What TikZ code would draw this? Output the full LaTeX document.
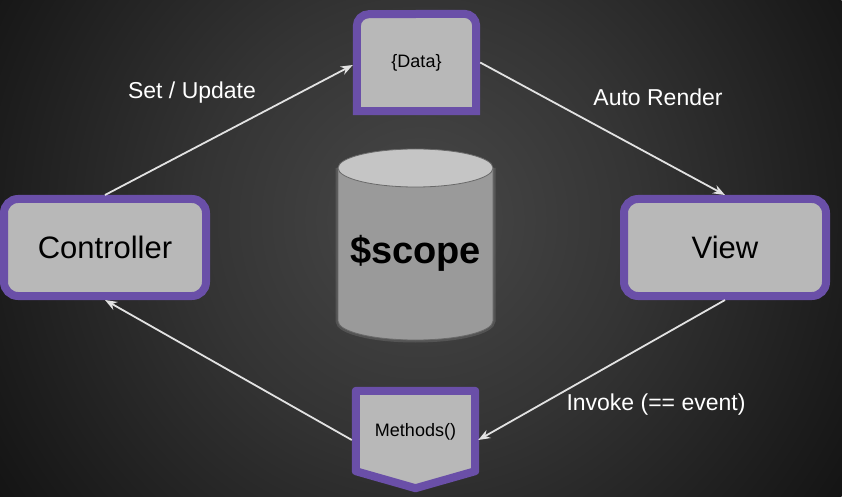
\documentclass[tikz,border=0pt]{standalone}
\usepackage{fontspec}
\setmainfont{Liberation Sans}
\usetikzlibrary{positioning, arrows.meta, calc}

\definecolor{tagpurple}{RGB}{106,79,168}
\definecolor{boxfill}{RGB}{184,184,184}
\definecolor{wirecol}{RGB}{226,226,226}
\definecolor{cylbody}{RGB}{154,154,154}
\definecolor{cyltop}{RGB}{197,197,197}
\definecolor{cyledge}{RGB}{105,105,105}
\definecolor{bgin}{RGB}{72,72,72}
\definecolor{bgmid}{RGB}{52,52,52}
\definecolor{bgrim}{RGB}{29,29,29}
\definecolor{bgout}{RGB}{18,18,18}
\pgfdeclareradialshading{bgglow}{\pgfpoint{0bp}{0bp}}{color(0bp)=(bgin);
  color(13bp)=(bgmid); color(25bp)=(bgrim); color(31bp)=(bgout);
  color(50bp)=(bgout)}

\begin{document}
\begin{tikzpicture}[x=1pt, y=1pt,
    block/.style={draw=tagpurple, line width=8pt, fill=boxfill,
                  rounded corners=14pt, minimum width=202pt,
                  minimum height=97pt, inner sep=0pt,
                  font=\fontsize{31}{36}\selectfont},
    outline/.style={draw=tagpurple, line width=8pt, fill=boxfill},
    small/.style={inner sep=0pt, font=\fontsize{18}{22}\selectfont},
    wire/.style={-{Stealth[length=12pt, width=9pt]}, line width=1.8pt,
                 draw=wirecol},
    lbl/.style={text=white, font=\fontsize{23}{27}\selectfont}
]

% ---- background ----
\useasboundingbox (0,0) rectangle (843,496);
\begin{scope}
  \clip (0,0) rectangle (843,496);
  \shade[shading=bgglow] (-1.5,-145.5) rectangle (841.5,697.5);
\end{scope}

% ---- $scope store ----
\draw[white, opacity=0.12, line width=5pt]
      (338,328) -- (338,175)
      arc[start angle=180, end angle=360, x radius=77.5pt, y radius=19pt]
      -- (493,328);
\filldraw[fill=cylbody, draw=cyledge, line width=0.8pt]
      (338,328) -- (338,175)
      arc[start angle=180, end angle=360, x radius=77.5pt, y radius=19pt]
      -- (493,328) -- cycle;
\filldraw[fill=cyltop, draw=cyledge, line width=0.8pt]
      (415.5,328) ellipse[x radius=77.5pt, y radius=19pt];
\node[font=\bfseries\fontsize{38}{44}\selectfont] (scope) at (415.5,243)
      {\$scope};

% ---- Controller and View ----
\node[block] (ctrl) at (105,248.5) {Controller};
\node[block] (view) at (725,248.5) {View};

% ---- Data (rounded top only) ----
\node[small, minimum width=119pt, minimum height=97pt] (data)
      at (416.5,433.5) {};
\draw[outline] (data.south west) -- ++(0,85)
      arc[start angle=180, end angle=90, radius=12pt]
      -- ([xshift=-12pt]data.north east)
      arc[start angle=90, end angle=0, radius=12pt]
      -- (data.south east) -- cycle;
% redraw text on top
\node[small] at (416.5,433.5) {\{Data\}};

% ---- Methods (pointed bottom) ----
\node[small, minimum width=119pt, minimum height=80pt] (meth)
      at (415.5,65) {};
\draw[outline, line join=round] (meth.south west) -- (meth.north west)
      -- (meth.north east) -- (meth.south east)
      -- ($(meth.south)+(0,-17)$) -- cycle;
\node[small] at (415.5,64) {Methods()};

% ---- connectors ----
\draw[wire] (ctrl.north) -- ([xshift=-4pt, yshift=-2.5pt]data.west);
\draw[wire] ([xshift=4pt]data.east) -- (view.north);
\draw[wire] (view.south) -- ([xshift=3pt, yshift=-9pt]meth.east);
\draw[wire] ([xshift=-4pt, yshift=-9pt]meth.west) -- (ctrl.south);

% ---- labels ----
\node[lbl] (setlbl)  at (192,403) {Set / Update};
\node[lbl] (autolbl) at (658,399) {Auto Render};
\node[lbl] (invlbl)  at (656,91)  {Invoke (== event)};

\end{tikzpicture}
\end{document}
